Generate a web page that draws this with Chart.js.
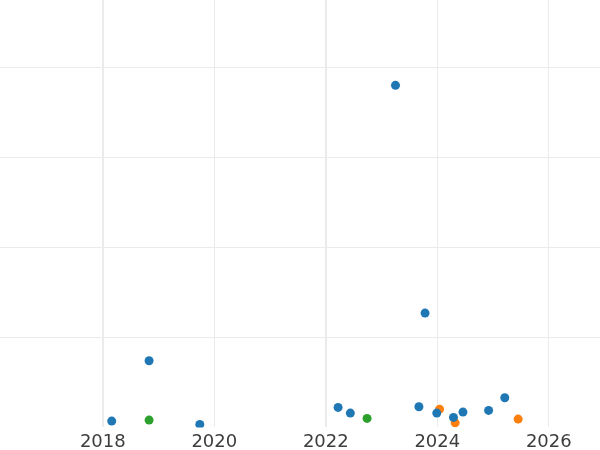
<!DOCTYPE html>
<html>
<head>
<meta charset="utf-8">
<script src="https://cdn.jsdelivr.net/npm/chart.js@4"></script>
<style>
  html, body { margin: 0; padding: 0; background: #fff; }
  #wrap { width: 600px; height: 450px; }
</style>
</head>
<body>
<div id="wrap"><canvas id="chart"></canvas></div>
<script>
// blue series
const blueX = [2018.16, 2018.83, 2019.74, 2023.25, 2023.78, 2022.22, 2022.44, 2023.67, 2023.99, 2024.29, 2024.46, 2024.92, 2025.21];
const blueY = [7, 74, 3.3, 380, 127, 22.2, 15.9, 22.9, 15.9, 11.1, 17, 18.9, 32.9];
// orange series
const orangeX = [2024.04, 2024.32, 2025.45];
const orangeY = [20.3, 5.1, 9.2];
// green series
const greenX = [2018.83, 2022.74];
const greenY = [8.1, 10];

const xTicks = [2018, 2020, 2022, 2024, 2026];
const yTicks = [100, 200, 300, 400];

function pts(xs, ys) {
  return xs.map((x, i) => ({ x: x, y: ys[i] }));
}

function dot(label, xs, ys, color) {
  return {
    label: label,
    data: pts(xs, ys),
    backgroundColor: color,
    borderColor: color,
    pointRadius: 4.5,
    borderWidth: 0,
    clip: 0,
  };
}

let ctx = document.getElementById("chart").getContext("2d");
const myChart = new Chart(ctx, {
  type: "scatter",
  data: {
    datasets: [
      dot("blue", blueX, blueY, "#1f77b4"),
      dot("orange", orangeX, orangeY, "#ff7f0e"),
      dot("green", greenX, greenY, "#2ca02c"),
    ],
  },
  options: {
    responsive: true,
    maintainAspectRatio: false,
    animation: false,
    layout: { padding: 0, autoPadding: false },
    plugins: {
      legend: { display: false },
      tooltip: { enabled: false },
    },
    scales: {
      x: {
        type: "linear",
        min: 2016.156,
        max: 2026.918,
        afterBuildTicks: (axis) => {
          axis.ticks = xTicks.map((v) => ({ value: v }));
        },
        // fixed axis height so the plot ends where the reference does
        afterFit: (axis) => {
          axis.height = 22.6;
        },
        border: { display: false },
        grid: {
          color: "#ebebeb",
          lineWidth: (c) => (c.tick && (c.tick.value === 2018 || c.tick.value === 2022) ? 2 : 1),
          drawTicks: false,
        },
        ticks: {
          padding: 4,
          color: "#3d3d3d",
          font: { family: "DejaVu Sans", size: 18 },
          callback: (v) => String(v),
        },
      },
      y: {
        min: 0,
        max: 474.8,
        afterBuildTicks: (axis) => {
          axis.ticks = yTicks.map((v) => ({ value: v }));
        },
        border: { display: false },
        grid: { color: "#ebebeb", lineWidth: 1, drawTicks: false },
        ticks: { display: false },
      },
    },
  },
});
</script>
</body>
</html>
